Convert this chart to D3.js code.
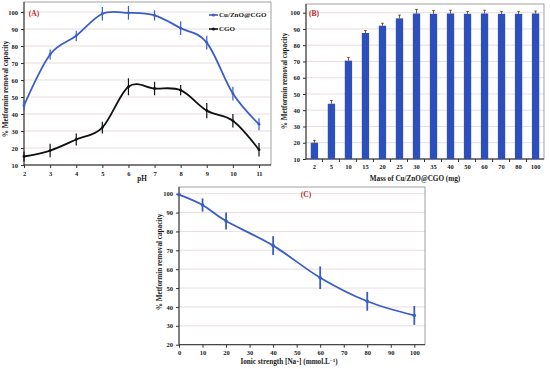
<!DOCTYPE html>
<html>
<head>
<meta charset="utf-8">
<script src="https://cdn.jsdelivr.net/npm/d3@7"></script>
<style>
  body { margin: 0; background: #fff; }
  text { font-family: "Liberation Serif", "Times New Roman", serif; font-weight: bold; fill: #1a1a1a; }
</style>
</head>
<body>
<div id="root"></div>
<script>
// Panel A data (pH effect).
const phValues = [2, 3, 4, 5, 6, 7, 8, 9, 10, 11];
const cuznoPh = [45, 75, 86, 99, 99.5, 98, 90.5, 82, 52, 34];
const cuznoPhErr = [3, 3, 3, 4, 4, 3, 4, 4, 4, 3.5];
const cgoPh = [15, 18.5, 25, 32, 56, 55, 54, 42, 36, 19];
const cgoPhErr = [3, 4, 3.5, 3.5, 5, 4, 3, 4.5, 4, 4];

// Panel B data (mass effect).
const massCategories = ['2', '5', '10', '15', '20', '25', '30', '35', '40', '50', '60', '70', '80', '100'];
const massRemoval = [20, 44, 70.5, 87.5, 92, 96.5, 99.5, 99.3, 99.5, 99.3, 99.5, 99.3, 99.3, 99.5];
const massErr = [1.5, 2, 2, 1.5, 1.5, 2, 2.5, 2, 2, 1.5, 2, 1.5, 1.5, 1.5];

// Panel C data (ionic strength).
const ionicValues = [0, 10, 20, 40, 60, 80, 100];
const ionicRemoval = [99.5, 94, 85.5, 72.5, 55.5, 43, 35.5];
const ionicErr = [0, 3.5, 4.5, 5, 6, 5, 5];

// Tick labels.
const phTicks = [2, 3, 4, 5, 6, 7, 8, 9, 10, 11];
const removalTicksAB = [10, 20, 30, 40, 50, 60, 70, 80, 90, 100];
const removalTicksC = [20, 30, 40, 50, 60, 70, 80, 90, 100];
const ionicTicks = [0, 10, 20, 30, 40, 50, 60, 70, 80, 90, 100];

const blue = '#3a5ec8';
const gridColor = '#e3d3d3';
const yTitle = '% Metformin removal capacity';

let svg = d3.select('#root')
  .append('svg')
  .attr('width', 550)
  .attr('height', 369);

// Draws grid, frame and axes for one panel.
let drawFrame = (box, x, y, yTicks, xAxisFn) => {
  svg.append('g')
    .selectAll('line')
    .data(yTicks)
    .enter()
    .append('line')
    .attr('x1', box.left).attr('x2', box.right)
    .attr('y1', d => y(d)).attr('y2', d => y(d))
    .attr('stroke', gridColor).attr('stroke-width', 0.8);

  svg.append('rect')
    .attr('x', box.left).attr('y', box.top)
    .attr('width', box.right - box.left).attr('height', box.bottom - box.top)
    .attr('fill', 'none').attr('stroke', '#8a8a8a').attr('stroke-width', 0.8);

  let yAxis = svg.append('g')
    .attr('transform', `translate(${box.left},0)`)
    .call(d3.axisLeft(y).tickValues(yTicks).tickSize(3).tickPadding(3));
  yAxis.select('.domain').attr('d', `M0,${box.top}V${box.bottom}`);

  let xAxis = svg.append('g')
    .attr('transform', `translate(0,${box.bottom})`)
    .call(xAxisFn);
  xAxis.select('.domain').attr('d', `M${box.left},0H${box.right}`);

  svg.selectAll('.tick text').attr('font-size', 6.5);
  svg.selectAll('.domain').attr('stroke', '#333');
  svg.selectAll('.tick line').attr('stroke', '#333');
};

let drawYTitle = (xPos, yPos) => {
  svg.append('text')
    .attr('transform', `translate(${xPos},${yPos}) rotate(-90)`)
    .attr('text-anchor', 'middle')
    .attr('font-size', 7.2)
    .text(yTitle);
};

let drawTag = (xPos, yPos, label) => {
  svg.append('text')
    .attr('x', xPos).attr('y', yPos)
    .attr('font-size', 7.5)
    .attr('text-anchor', 'middle')
    .style('fill', '#b8281e')
    .text(label);
};

// ---------- Panel A ----------
let boxA = { left: 24, right: 271, top: 2, bottom: 165 };
let xA = d3.scaleLinear().domain([2, 11]).range([24, 259]);
let yA = d3.scaleLinear().domain([10, 100]).range([165, 12]);

drawFrame(boxA, xA, yA, removalTicksAB,
  d3.axisBottom(xA).tickValues(phTicks).tickSize(3).tickPadding(3).tickFormat(d3.format('d')));

let lineA = d3.line()
  .x((d, i) => xA(phValues[i]))
  .y(d => yA(d))
  .curve(d3.curveCardinal.tension(0));

let drawSeriesA = (vals, errs, color) => {
  svg.append('g')
    .selectAll('line')
    .data(vals)
    .enter()
    .append('line')
    .attr('x1', (d, i) => xA(phValues[i])).attr('x2', (d, i) => xA(phValues[i]))
    .attr('y1', (d, i) => yA(d - errs[i])).attr('y2', (d, i) => yA(d + errs[i]))
    .attr('stroke', color).attr('stroke-width', 1.2);
  svg.append('path')
    .datum(vals)
    .attr('d', lineA)
    .attr('fill', 'none')
    .attr('stroke', color)
    .attr('stroke-width', 1.8);
  svg.append('g')
    .selectAll('circle')
    .data(vals)
    .enter()
    .append('circle')
    .attr('cx', (d, i) => xA(phValues[i]))
    .attr('cy', d => yA(d))
    .attr('r', 1.4)
    .attr('fill', color);
};

drawSeriesA(cuznoPh, cuznoPhErr, blue);
drawSeriesA(cgoPh, cgoPhErr, '#111');

// Legend.
let legendA = [{ name: 'Cu/ZnO@CGO', color: blue }, { name: 'CGO', color: '#111' }];
legendA.forEach((item, i) => {
  let ly = 15 + i * 14;
  svg.append('line')
    .attr('x1', 209).attr('x2', 218).attr('y1', ly).attr('y2', ly)
    .attr('stroke', item.color).attr('stroke-width', 1.6);
  svg.append('circle').attr('cx', 213.5).attr('cy', ly).attr('r', 1.5).attr('fill', item.color);
  svg.append('text')
    .attr('x', 219).attr('y', ly + 2.3)
    .attr('font-size', 7)
    .text(item.name);
});

drawYTitle(7.5, 89);
svg.append('text')
  .attr('x', 142).attr('y', 181)
  .attr('text-anchor', 'middle')
  .attr('font-size', 7.2)
  .text('pH');
drawTag(34, 16, '(A)');

// ---------- Panel B ----------
let boxB = { left: 306, right: 544, top: 4, bottom: 159 };
let xB = d3.scaleBand().domain(massCategories).range([306, 544]).paddingInner(0.57).paddingOuter(0.28);
let yB = d3.scaleLinear().domain([10, 100]).range([159, 12.7]);

drawFrame(boxB, xB, yB, removalTicksAB,
  d3.axisBottom(xB).tickSize(0).tickPadding(5));

// Category separator ticks on the x axis.
svg.append('g')
  .selectAll('line')
  .data(massCategories.slice(1))
  .enter()
  .append('line')
  .attr('x1', d => xB(d) - xB.step() * xB.paddingInner() / 2 - 0.5)
  .attr('x2', d => xB(d) - xB.step() * xB.paddingInner() / 2 - 0.5)
  .attr('y1', 159).attr('y2', 162)
  .attr('stroke', '#333');

svg.append('g')
  .selectAll('rect')
  .data(massRemoval)
  .enter()
  .append('rect')
  .attr('x', (d, i) => xB(massCategories[i]))
  .attr('y', d => yB(d))
  .attr('width', xB.bandwidth())
  .attr('height', d => yB(10) - yB(d))
  .attr('fill', '#2c4fbb');

svg.append('g')
  .selectAll('path')
  .data(massRemoval)
  .enter()
  .append('path')
  .attr('d', (d, i) => {
    let cx = xB(massCategories[i]) + xB.bandwidth() / 2;
    let top = yB(d + massErr[i]);
    return `M${cx},${yB(d)}V${top}M${cx - 1.3},${top}H${cx + 1.3}`;
  })
  .attr('fill', 'none')
  .attr('stroke', '#6e3c1c')
  .attr('stroke-width', 0.9);

drawYTitle(287, 81);
svg.append('text')
  .attr('x', 415).attr('y', 181)
  .attr('text-anchor', 'middle')
  .attr('font-size', 7.2)
  .text('Mass of Cu/ZnO@CGO (mg)');
drawTag(314, 16, '(B)');

// ---------- Panel C ----------
let boxC = { left: 179, right: 425, top: 187, bottom: 344.7 };
let xC = d3.scaleLinear().domain([0, 100]).range([179, 414.3]);
let yC = d3.scaleLinear().domain([20, 100]).range([344.7, 193.7]);

drawFrame(boxC, xC, yC, removalTicksC,
  d3.axisBottom(xC).tickValues(ionicTicks).tickSize(3).tickPadding(3));

svg.append('g')
  .selectAll('line')
  .data(ionicRemoval)
  .enter()
  .append('line')
  .attr('x1', (d, i) => xC(ionicValues[i])).attr('x2', (d, i) => xC(ionicValues[i]))
  .attr('y1', (d, i) => yC(d - ionicErr[i])).attr('y2', (d, i) => yC(d + ionicErr[i]))
  .attr('stroke', blue).attr('stroke-width', 1.8);

svg.append('path')
  .datum(ionicRemoval)
  .attr('d', d3.line()
    .x((d, i) => xC(ionicValues[i]))
    .y(d => yC(d))
    .curve(d3.curveCardinal.tension(0)))
  .attr('fill', 'none')
  .attr('stroke', blue)
  .attr('stroke-width', 1.8);

svg.append('g')
  .selectAll('circle')
  .data(ionicRemoval)
  .enter()
  .append('circle')
  .attr('cx', (d, i) => xC(ionicValues[i]))
  .attr('cy', d => yC(d))
  .attr('r', 1.8)
  .attr('fill', blue);

drawYTitle(162, 262);
let xTitleC = svg.append('text')
  .attr('x', 289).attr('y', 364)
  .attr('text-anchor', 'middle')
  .attr('font-size', 7.2);
xTitleC.append('tspan').text('Ionic strength [Na');
xTitleC.append('tspan').attr('dy', -2.5).attr('font-size', 5).text('+');
xTitleC.append('tspan').attr('dy', 2.5).text('] (mmol.L');
xTitleC.append('tspan').attr('dy', -2.5).attr('font-size', 5).text('\u22121');
xTitleC.append('tspan').attr('dy', 2.5).text(')');
drawTag(306, 197, '(C)');
</script>
</body>
</html>
